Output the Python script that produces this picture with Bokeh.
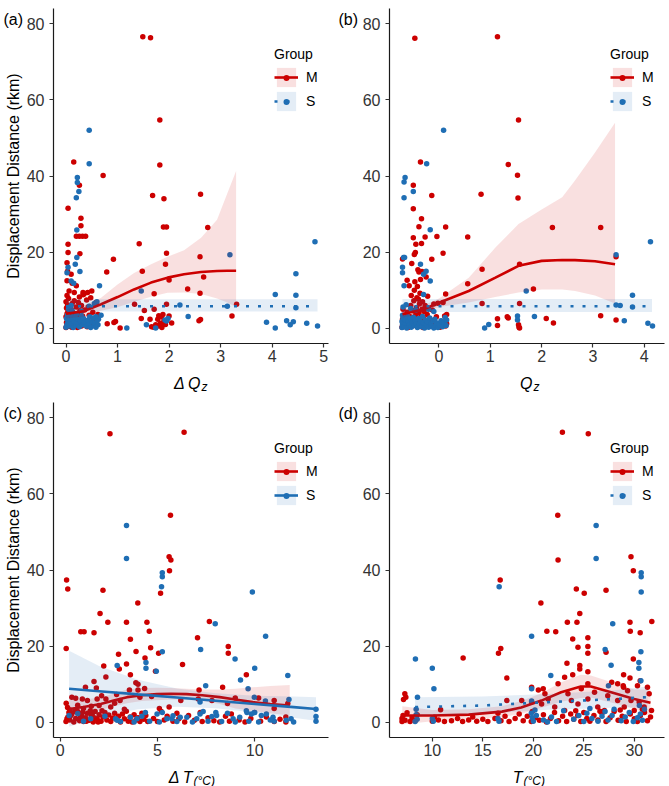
from bokeh.plotting import figure
from bokeh.layouts import gridplot
from bokeh.models import Range1d, Label, Legend, LegendItem, FixedTicker
from bokeh.embed import file_html
from bokeh.resources import INLINE

RED = "#CC0000"
BLUE = "#1F6EB4"
FONT = "Liberation Sans"

# ---------------- (a) displacement vs ΔQz ----------------
dqz_M = [(1.49,76.6),(1.64,76.3),(1.82,54.7),(1.82,42.9),(0.15,43.7),(0.72,40.1),(0.26,37.6),(1.68,34.9),(1.90,34.0),(2.61,35.2),
         (0.04,31.5),(0.29,28.9),(0.29,26.9),(0.20,24.2),(0.26,24.2),(0.32,24.2),(0.38,24.2),(1.89,26.6),(1.95,26.6),(2.75,26.5),
         (1.42,22.2),(1.95,19.7),(0.27,19.6),(0.04,22.1),(0.04,19.9),(0.02,17.2),(0.03,15.0),(0.10,14.2),(0.02,12.5),(0.12,11.8),
         (0.20,11.2),(0.06,9.8),(0.16,9.4),(0.33,9.4),(0.50,9.8),(0.92,18.1),(0.79,14.8),(1.48,15.0),(1.93,16.8),(2.60,18.8),
         (2.67,13.5),(2.00,12.7),(1.71,9.1),(2.36,10.3),(2.60,9.2),(1.52,4.7),(1.71,5.0),(1.33,6.3),(1.95,6.3),(2.61,2.3),
         (2.58,2.0),(3.22,3.2),(3.31,6.3),(0.80,1.2),(0.93,1.5),(0.96,1.8),(1.05,0.1),(1.63,2.4),(1.74,0.9),(1.77,0.5),
         (1.78,2.4),(1.80,3.3),(1.85,3.0),(1.88,3.6),(1.83,1.3),(1.84,0.6),(1.86,0.2),(1.66,0.4),(1.70,0.3),(1.46,2.6),
         (1.90,2.0),(1.93,1.0),(2.00,3.2),(2.05,1.4),
         (0.00,0.2),(0.02,0.8),(0.01,1.5),(0.03,2.2),(0.00,3.0),(0.02,3.8),(0.04,4.5),(0.01,5.3),(0.03,6.1),(0.00,7.0),
         (0.05,7.8),(0.02,8.6),(0.06,0.5),(0.08,1.2),(0.07,2.6),(0.09,3.5),(0.10,5.0),(0.12,6.5),(0.11,0.3),(0.14,1.8),
         (0.15,3.0),(0.13,4.2),(0.16,7.2),(0.18,0.9),(0.19,2.4),(0.20,5.6),(0.22,0.2),(0.22,3.6),(0.24,6.8),(0.25,1.4),
         (0.26,8.2),(0.27,4.6),(0.28,2.8),(0.30,0.6),(0.30,6.0),(0.32,3.2),(0.33,8.8),(0.35,1.1),(0.36,4.8),(0.38,2.0),
         (0.40,7.4),(0.41,0.4),(0.43,5.6),(0.45,3.4),(0.47,1.6),(0.48,8.0),(0.50,0.8),(0.52,4.2),(0.55,2.6),(0.58,6.8),
         (0.60,1.0),(0.62,3.6),(0.35,9.0),(0.42,9.4)]
dqz_S = [(0.45,52.0),(0.45,43.2),(0.22,39.6),(0.22,38.3),(0.25,35.9),(0.20,34.3),(0.21,25.8),(0.21,18.6),(0.18,16.8),(0.27,14.9),
         (0.04,16.0),(0.02,14.6),(0.10,12.4),(0.15,11.8),(0.65,11.2),(1.46,9.8),(3.18,19.3),(4.83,22.7),(4.46,14.3),(4.06,8.9),
         (4.46,8.7),(4.46,5.4),(4.06,0.1),(3.89,1.6),(4.28,2.0),(4.41,1.7),(4.35,0.9),(4.67,1.3),(4.88,0.6),(2.37,3.1),
         (3.13,5.8),(2.21,6.1),(1.18,0.1),(1.74,0.1),(1.56,0.9),(1.92,2.2),(1.98,2.6),(1.95,1.9),(0.63,2.4),(0.58,3.0),
         (0.68,3.4),
         (0.00,0.3),(0.02,1.0),(0.04,1.8),(0.01,2.6),(0.03,3.4),(0.06,0.6),(0.08,2.2),(0.10,1.2),(0.12,3.0),(0.14,0.2),
         (0.15,1.8),(0.17,2.8),(0.19,0.8),(0.20,3.6),(0.22,1.4),(0.24,2.4),(0.26,0.4),(0.28,1.9),(0.30,3.2),(0.32,0.9),
         (0.34,2.6),(0.36,1.5),(0.40,0.5),(0.42,2.1),(0.44,1.0),(0.46,3.0),(0.48,0.2),(0.50,1.7),(0.52,2.7),(0.54,0.7),
         (0.56,1.3),(0.58,0.3),(0.60,2.0),(0.62,0.9),(0.05,5.0),(0.12,4.6),(0.10,6.0),(0.30,4.5),(0.45,5.8),(0.55,6.5),(0.60,7.0)]
dqz_fit_x = [0.0, 0.35, 0.68, 1.0, 1.32, 1.65, 1.97, 2.29, 2.62, 2.93, 3.13, 3.3]
dqz_fit_M = [3.8, 4.5, 6.3, 8.2, 10.2, 12.0, 13.3, 14.2, 14.8, 15.05, 15.1, 15.1]
dqz_fit_M_hi = [5.0, 6.0, 8.0, 11.5, 14.5, 16.8, 18.8, 20.5, 23.8, 28.5, 35.5, 41.3]
dqz_fit_M_lo = [2.6, 3.0, 4.6, 5.5, 7.0, 8.3, 9.3, 9.4, 9.0, 7.8, 6.8, 5.5]
dqz_fit_S_x = [0.0, 4.88]
dqz_fit_S = [5.8, 5.8]
dqz_fit_S_hi = [7.6, 7.6]
dqz_fit_S_lo = [4.4, 4.4]

# ---------------- (b) displacement vs Qz ----------------
qz_M = [(-0.47,76.2),(1.14,76.6),(1.55,54.7),(1.35,43.0),(1.53,40.2),(-0.36,43.7),(-0.50,37.6),(-0.14,34.9),(0.82,35.2),(1.54,34.2),
        (-0.50,31.4),(-0.34,28.8),(-0.39,26.7),(-0.27,24.0),(-0.50,23.8),(-0.45,22.1),(-0.34,22.3),(-0.46,19.9),(-0.48,19.4),(-0.71,18.2),
        (-0.53,17.0),(-0.41,15.4),(-0.39,14.8),(-0.33,14.9),(-0.25,13.5),(-0.14,18.1),(-0.04,24.1),(0.13,26.6),(0.08,19.7),(0.56,24.0),
        (0.84,15.5),(0.56,11.7),(0.84,6.5),(1.57,16.8),(1.57,6.5),(1.84,10.3),(2.21,26.5),(3.15,26.5),(3.45,18.8),(3.15,3.3),
        (3.45,2.2),(2.09,2.6),(2.23,1.4),(1.14,2.5),(1.14,0.7),(1.33,3.0),(1.35,2.7),(1.55,0.9),(1.56,0.3),(1.57,0.1),(0.13,9.0),
        (-0.72,0.3),(-0.70,1.2),(-0.71,2.4),(-0.69,3.4),(-0.70,5.0),(-0.66,0.8),(-0.64,2.0),(-0.62,4.2),(-0.60,0.2),(-0.58,1.6),
        (-0.56,3.0),(-0.55,6.0),(-0.54,8.6),(-0.52,0.6),(-0.50,2.4),(-0.50,4.6),(-0.49,7.2),(-0.48,10.0),(-0.47,12.2),(-0.46,1.2),
        (-0.45,3.6),(-0.44,5.4),(-0.43,8.0),(-0.42,11.0),(-0.41,0.4),(-0.40,2.0),(-0.39,4.0),(-0.38,6.4),(-0.37,9.2),(-0.36,12.8),
        (-0.35,1.0),(-0.34,3.0),(-0.33,5.0),(-0.32,7.0),(-0.31,0.2),(-0.30,2.6),(-0.29,4.4),(-0.27,6.0),(-0.25,1.4),(-0.23,3.6),
        (-0.21,5.2),(-0.19,0.6),(-0.16,2.2),(-0.13,4.8),(-0.10,6.4),(-0.08,1.0),(-0.05,3.0),(-0.02,6.6),(0.02,0.3),(0.05,1.8),
        (0.08,6.8),(0.11,3.2),(0.13,0.6),(0.14,2.2),(0.15,1.2),(0.15,3.6),(-0.58,11.2),(-0.62,12.6),(-0.40,7.6),(-0.22,8.4)]
qz_S = [(0.09,52.0),(-0.24,43.2),(-0.66,39.6),(-0.68,38.4),(-0.50,35.9),(-0.68,34.3),(-0.17,25.9),(-0.69,18.6),(-0.67,18.6),(-0.71,16.0),
        (-0.71,14.6),(-0.68,11.2),(-0.36,16.8),(-0.30,14.2),(-0.25,15.0),(-0.17,12.4),(-0.30,8.9),(1.70,9.8),(3.45,19.3),(4.12,22.7),
        (3.77,8.7),(3.77,5.6),(3.45,6.1),(3.53,6.0),(3.61,2.0),(4.07,1.3),(4.16,0.6),(1.86,3.1),(1.53,3.2),(1.53,2.2),(0.89,0.1),(0.97,1.0),
        (-0.72,0.2),(-0.71,1.0),(-0.72,1.8),(-0.70,2.6),(-0.71,3.4),(-0.68,0.6),(-0.66,1.4),(-0.65,2.2),(-0.63,0.1),(-0.61,3.0),
        (-0.60,1.8),(-0.58,0.8),(-0.56,2.6),(-0.54,0.3),(-0.52,1.5),(-0.50,2.9),(-0.48,0.7),(-0.46,2.1),(-0.44,1.2),(-0.42,0.2),
        (-0.40,2.6),(-0.38,1.0),(-0.36,1.8),(-0.34,0.4),(-0.32,3.1),(-0.30,1.3),(-0.28,0.1),(-0.26,2.2),(-0.24,0.9),(-0.22,1.7),
        (-0.20,0.3),(-0.18,2.7),(-0.16,1.1),(-0.14,0.5),(-0.12,1.9),(-0.10,0.1),(-0.08,2.4),(-0.06,0.8),(-0.04,1.4),(-0.02,0.2),
        (0.01,1.0),(0.04,2.0),(0.07,0.4),(0.10,1.5),(0.12,2.8),(0.14,0.7),(0.15,2.2),(-0.70,5.6),(-0.64,6.2),(-0.55,5.2),
        (-0.45,4.8),(-0.20,5.0),(-0.10,4.4)]
qz_fit_x = [-0.71, -0.3, 0.0, 0.58, 1.1, 1.55, 2.0, 2.4, 2.65, 3.04, 3.43]
qz_fit_M = [3.7, 5.0, 6.7, 9.8, 13.3, 16.4, 17.7, 17.95, 17.9, 17.6, 16.8]
qz_fit_M_hi = [4.6, 6.0, 7.8, 13.3, 21.2, 27.4, 31.2, 34.4, 38.8, 46.2, 54.0]
qz_fit_M_lo = [2.8, 4.0, 5.6, 6.8, 8.2, 9.4, 10.2, 10.2, 9.8, 8.6, 6.5]
qz_fit_S_x = [-0.71, 4.15]
qz_fit_S = [5.8, 5.8]
qz_fit_S_hi = [7.7, 7.7]
qz_fit_S_lo = [4.3, 4.3]

# ---------------- (c) displacement vs ΔT ----------------
dt_M = [(2.56,75.8),(6.37,76.2),(5.67,54.4),(5.60,43.5),(5.69,42.6),(5.62,39.8),(0.33,37.4),(0.39,35.0),(2.20,34.7),(5.16,33.9),
        (3.99,31.3),(2.05,28.6),(2.45,26.3),(3.41,26.3),(4.46,26.3),(7.67,26.5),(1.06,23.8),(1.23,23.8),(1.74,23.5),(4.58,23.9),
        (3.61,21.8),(7.06,22.2),(0.31,19.4),(4.65,19.6),(3.00,17.9),(3.90,18.6),(5.06,18.1),(8.64,19.9),(8.64,18.1),(2.24,14.8),
        (3.41,15.3),(3.04,14.0),(4.36,16.9),(4.90,13.4),(6.29,15.2),(2.35,11.9),(3.61,12.5),(9.57,12.5),(8.35,9.2),(3.89,10.4),
        (4.00,10.0),(4.34,8.9),(1.74,10.7),(1.30,9.2),(1.86,9.0),(7.14,8.5),(3.56,8.5),(4.00,8.5),
        (0.31,5.0),(0.38,3.9),(0.60,6.6),(0.80,6.3),(1.14,6.1),(1.40,5.7),(1.90,6.1),(2.13,7.0),(2.35,6.1),(2.90,7.3),
        (3.08,5.7),(4.10,6.6),(4.70,6.8),(5.10,3.6),(5.60,4.0),(6.20,5.7),(7.10,6.1),(7.80,5.7),(8.60,4.9),(9.00,6.4),
        (10.2,6.4),(11.0,5.7),(11.7,4.9),(11.0,3.6),(0.90,4.5),(1.60,4.2),(2.60,4.0),(3.30,3.4),(0.50,3.2),(1.20,3.6),
        (2.00,4.4),(2.80,5.0),
        (0.30,0.2),(0.40,1.4),(0.50,0.6),(0.60,2.2),(0.70,0.1),(0.80,1.0),(0.90,2.8),(1.00,0.4),(1.10,1.8),(1.20,0.2),
        (1.30,1.2),(1.40,2.4),(1.50,0.5),(1.60,1.6),(1.70,0.1),(1.80,2.8),(1.90,0.9),(2.00,2.0),(2.10,0.3),(2.20,1.4),
        (2.30,2.6),(2.40,0.6),(2.50,1.9),(2.60,0.2),(2.70,1.1),(2.80,2.4),(2.90,0.7),(3.00,1.6),(3.10,0.1),(3.20,2.2),
        (3.30,0.9),(3.40,2.9),(3.50,0.3),(3.60,1.4),(3.70,0.1),(3.80,2.0),(3.90,0.6),(4.00,1.2),(4.10,0.2),(4.20,2.4),
        (4.30,0.8),(4.40,1.8),(4.50,0.2),(0.35,0.9),(0.55,1.8),(0.75,2.9),(0.95,0.8),(1.15,2.6),(1.35,0.3),(1.55,3.0),
        (1.75,1.2),(1.95,0.1),(2.15,3.0),(0.45,2.6),(1.05,1.3),(1.65,2.2),
        (4.80,1.0),(5.00,0.2),(5.20,2.8),(5.35,0.6),(5.50,1.6),(5.80,0.3),(6.00,2.4),(6.10,0.9),(6.40,0.1),(6.60,1.8),
        (6.90,0.5),(7.20,2.6),(7.30,0.2),(7.60,1.2),(7.90,0.4),(8.20,0.1),(8.50,1.6),(8.70,0.3),(8.80,2.2),(9.20,0.6),
        (9.50,0.1),(9.80,1.0),(10.3,0.3),(10.6,1.4),(11.0,0.2),(11.3,0.8),(11.6,0.1),(11.6,1.4)]
dt_S = [(3.41,51.7),(3.41,43.0),(5.25,39.3),(5.25,38.2),(5.21,35.6),(9.88,34.2),
        (7.97,25.9),(10.56,22.6),(5.25,18.5),(7.22,19.1),(8.99,16.6),(10.0,14.2),(4.41,15.7),(4.41,14.2),(4.94,13.4),(2.93,14.9),
        (11.70,12.3),(9.27,11.1),(9.66,8.8),(7.48,9.6),(9.98,6.6),(10.55,5.6),(11.76,6.0),(13.15,3.4),(13.15,1.5),(13.15,0.3),
        (7.19,5.3),(7.35,2.8),(8.00,2.6),(9.60,2.6),(9.98,2.6),
        (0.46,1.8),(1.57,0.9),(2.85,0.9),(2.93,0.5),(3.61,1.3),(3.95,0.9),(4.38,2.6),(4.98,2.2),(5.25,2.6),(5.49,0.9),
        (5.74,0.9),(6.17,1.3),(6.51,1.3),(7.02,0.9),(7.19,2.2),(8.04,1.8),(8.89,0.9),(9.23,1.3),(9.57,3.0),(9.83,2.2),
        (10.0,2.6),(10.34,1.8),(10.6,2.2),(10.94,1.3),(11.62,0.5),(11.87,0.9),
        (3.10,0.2),(3.80,0.1),(4.60,0.3),(5.10,0.1),(6.00,0.2),(6.80,0.1),(7.60,0.3),(8.30,0.2),(9.00,0.1),(9.70,0.3),
        (10.2,0.1),(11.0,0.3),(12.0,0.1),(4.20,1.6),(5.80,1.7),(7.80,1.5),(8.60,2.4),(10.8,0.6),(0.90,2.3),(1.20,0.3),(2.30,1.6)]
dt_fit_x = [0.46, 1.2, 2.08, 2.8, 3.44, 4.2, 4.98, 5.7, 6.5, 7.3, 8.2, 9.0, 9.9, 10.8, 11.8]
dt_fit_M = [3.5, 4.0, 4.8, 5.8, 6.6, 7.1, 7.4, 7.5, 7.4, 7.1, 6.6, 6.0, 5.3, 4.8, 4.4]
dt_fit_M_hi = [6.0, 6.0, 6.5, 7.6, 8.6, 9.0, 9.1, 9.0, 8.8, 8.6, 8.6, 8.8, 9.2, 9.5, 9.8]
dt_fit_M_lo = [1.2, 2.2, 3.3, 4.2, 5.0, 5.6, 5.8, 6.0, 5.9, 5.6, 4.8, 3.6, 3.0, 2.4, 1.8]
dt_fit_S_x = [0.46, 2.0, 4.0, 6.0, 8.0, 10.0, 12.0, 13.15]
dt_fit_S = [8.8, 8.16, 7.32, 6.49, 5.65, 4.82, 3.98, 3.5]
dt_fit_S_hi = [18.8, 14.8, 11.2, 8.9, 7.6, 7.0, 6.8, 6.6]
dt_fit_S_lo = [-1.2, 1.5, 3.4, 4.1, 3.7, 2.6, 1.2, 0.4]

# ---------------- (d) displacement vs T ----------------
t_M = [(22.88,76.2),(25.44,75.8),(22.42,54.4),(22.45,42.6),(29.67,43.5),(29.90,39.8),(16.72,37.4),(24.26,35.0),(25.04,33.9),(27.20,34.7),
       (20.75,31.3),(24.60,28.6),(23.37,26.3),(24.32,26.3),(29.57,26.3),(31.73,26.5),(21.34,23.9),(22.22,23.8),(29.60,23.9),(30.58,23.5),
       (23.90,21.9),(25.40,22.2),(25.40,19.9),(25.40,18.1),(24.42,19.7),(27.20,18.4),(29.90,16.6),(16.55,18.1),(16.78,19.4),(13.05,16.9),
       (23.33,15.5),(24.60,14.9),(24.60,14.0),(25.40,13.3),(17.38,11.6),(23.90,12.5),(27.76,10.5),(28.94,12.5),(29.57,11.6),(30.58,10.9),
       (28.94,9.2),(28.90,9.6),(19.83,9.2),(20.50,8.5),(20.98,8.8),(21.15,7.5),(7.28,7.5),(7.38,6.6),(7.15,6.0),(10.82,3.3),(17.38,5.7),
       (18.85,5.7),(19.83,5.3),(20.82,4.8),(21.47,6.1),(22.12,4.0),(23.10,3.1),(23.77,5.7),(24.42,4.8),(25.40,6.1),(26.38,4.0),
       (27.04,3.1),(28.35,5.7),(29.00,4.0),(29.67,5.7),(29.99,3.1),(30.48,5.3),(30.97,4.0),(31.47,7.5),(31.70,3.1),(31.30,9.2),
       (30.31,9.6),(29.33,8.3),(28.35,10.1),(27.37,7.0),(23.43,7.5),(24.75,8.8),(25.40,10.1),(26.06,7.9),(23.10,11.8),(22.45,10.1),
       (7.0,0.2),(7.0,1.0),(7.1,1.8),(7.3,0.5),(7.5,2.5),(7.8,0.2),(8.0,1.2),(8.3,0.4),(8.5,2.0),(10.0,0.3),
       (10.2,1.3),(10.6,0.6),(11.2,0.2),(11.9,0.4),(12.5,1.0),(13.0,0.2),(13.6,0.6),(14.0,1.4),(14.4,0.3),(15.0,0.8),
       (15.5,0.2),(16.2,1.0),(16.5,2.4),(16.8,0.4),(17.2,1.6),(17.6,0.2),(18.2,1.0),(18.6,2.2),(19.0,0.4),(19.4,1.6),
       (19.8,0.2),(19.9,2.8),(20.2,1.2),(20.6,0.5),(21.0,2.0),(21.3,0.1),(21.7,1.0),(22.1,2.6),(22.5,0.4),(22.9,1.6),
       (23.3,0.2),(23.7,2.2),(24.0,0.8),(24.4,1.8),(24.7,0.2),(25.0,2.6),(25.3,1.0),(25.6,0.3),(26.0,1.8),(26.4,0.6),
       (26.8,2.4),(27.2,0.2),(27.6,1.2),(28.0,2.8),(28.4,0.5),(28.8,1.6),(29.2,0.2),(29.6,2.2),(30.0,0.9),(30.3,0.2),
       (30.6,1.8),(31.0,2.6),(31.3,0.4),(31.6,1.4),(24.2,3.0),(26.6,2.9),(28.6,3.2),(30.8,3.4)]
t_S = [(26.22,51.7),(26.22,43.0),(30.68,39.3),(30.68,38.2),(16.62,35.6),(30.68,34.2),
       (27.86,25.9),(19.83,22.6),(27.11,19.1),(30.65,18.5),(30.45,15.7),(30.45,14.2),(8.33,16.6),(10.0,14.2),(21.73,12.3),(27.70,15.0),
       (30.65,10.9),(10.16,8.8),(27.44,9.6),(19.83,8.8),(8.53,6.6),(19.83,5.6),(20.16,3.2),
       (8.4,3.4),(8.4,2.0),(8.5,0.8),(8.3,0.2),(10.0,1.0),(10.1,0.3),(16.5,1.0),(16.6,0.3),(19.8,2.4),(19.9,1.2),(20.0,0.3),
       (20.3,1.8),(21.0,0.6),(21.4,0.1),(21.8,1.4),(22.3,0.2),(24.0,0.8),(24.5,1.8),(25.0,0.2),(25.3,2.4),(25.8,1.0),
       (26.4,0.3),(26.8,1.6),(27.1,2.8),(27.4,0.6),(27.8,1.8),(28.7,0.4),(29.1,1.4),(29.5,2.6),(29.9,0.2),(30.3,1.2),
       (30.6,2.2),(30.8,0.5),(31.0,3.4),(30.5,4.4),(28.0,3.4),(25.6,3.6),(23.0,3.0)]
t_fit_x = [7.03, 10.0, 13.6, 16.9, 18.8, 20.8, 22.75, 24.7, 25.7, 27.7, 30.0, 31.6]
t_fit_M = [1.76, 1.76, 2.0, 2.8, 3.9, 5.7, 7.9, 9.4, 9.4, 7.9, 6.1, 5.1]
t_fit_M_hi = [4.2, 3.2, 3.4, 4.2, 5.6, 7.6, 10.5, 12.5, 12.3, 10.6, 8.6, 8.6]
t_fit_M_lo = [-0.6, 0.3, 0.7, 1.4, 2.2, 3.8, 5.4, 6.4, 6.5, 5.2, 3.6, 1.6]
t_fit_S_x = [8.3, 14.9, 21.5, 28.0, 31.3]
t_fit_S = [4.0, 4.4, 5.3, 6.1, 6.6]
t_fit_S_hi = [6.6, 6.8, 7.4, 8.4, 9.4]
t_fit_S_lo = [1.6, 2.2, 3.3, 3.8, 3.8]

Y_LIM = (-4, 84)
Y_TICKS = [0, 20, 40, 60, 80]
PANEL_W, PANEL_H, ROW_H = 275, 335, 393


def panel(tag, x_lim, x_ticks, m_pts, s_pts, m_fit, s_fit, s_dash,
          x_main, x_sub, x_main_right, width, pad_left, pad_top, y_title):
    # The plotting frame fills the whole canvas; the axes are pinned to the
    # panel edges (fixed_location + bounds) so that titles and tags can be
    # drawn as ordinary labels around the panel.
    pad_bottom = ROW_H - PANEL_H - pad_top
    x0, x1 = x_lim
    y0, y1 = Y_LIM
    ux = (x1 - x0) / PANEL_W
    uy = (y1 - y0) / PANEL_H
    xr = Range1d(x0 - pad_left * ux, x0 + (width - pad_left) * ux)
    yr = Range1d(y0 - pad_bottom * uy, y1 + pad_top * uy)
    p = figure(width=width, height=ROW_H, x_range=xr, y_range=yr,
               output_backend="svg", toolbar_location=None,
               min_border_left=0, min_border_right=0, min_border_top=0, min_border_bottom=0)
    p.outline_line_color = None
    p.grid.visible = False
    p.background_fill_color = "white"
    p.border_fill_color = "white"

    xa, ya = p.xaxis[0], p.yaxis[0]
    xa.fixed_location = y0
    xa.bounds = (x0, x1)
    ya.fixed_location = x0
    ya.bounds = (y0, y1)
    for ax in (xa, ya):
        ax.axis_line_color = "#1a1a1a"
        ax.axis_line_width = 1.2
        ax.major_tick_line_color = "#333333"
        ax.major_tick_line_width = 1.2
        ax.major_tick_in = 0
        ax.major_tick_out = 4
        ax.minor_tick_line_color = None
        ax.major_label_text_font = FONT
        ax.major_label_text_font_size = "16px"
        ax.major_label_text_color = "#333333"
    xa.ticker = FixedTicker(ticks=x_ticks)
    ya.ticker = FixedTicker(ticks=Y_TICKS)
    xa.major_label_standoff = 2
    ya.major_label_standoff = 5
    if y_title:
        ya.axis_label = "Displacement Distance (rkm)"
        ya.axis_label_text_font = FONT
        ya.axis_label_text_font_size = "16px"
        ya.axis_label_text_font_style = "normal"
        ya.axis_label_text_color = "black"
        ya.axis_label_standoff = 2

    mx, my = zip(*m_pts)
    sx, sy = zip(*s_pts)
    m_dots = p.scatter(list(mx), list(my), size=5.5, color=RED, line_width=0)
    s_dots = p.scatter(list(sx), list(sy), size=5.5, color=BLUE, line_width=0)

    fx, fy, fhi, flo = m_fit
    m_band = p.varea(x=fx, y1=flo, y2=fhi, fill_color=RED, fill_alpha=0.12)
    m_line = p.line(fx, fy, line_color=RED, line_width=2.6)
    gx, gy, ghi, glo = s_fit
    s_band = p.varea(x=gx, y1=glo, y2=ghi, fill_color=BLUE, fill_alpha=0.12)
    s_line = p.line(gx, gy, line_color=BLUE, line_width=2.6, line_dash=s_dash)

    # legend keys: ribbon + line, with a second overlaid legend carrying small point keys
    key_legend = Legend(items=[LegendItem(label="M", renderers=[m_band, m_line]),
                               LegendItem(label="S", renderers=[s_band, s_line])],
                        location=(pad_left + 221, pad_bottom + 230), title="Group",
                        title_text_font=FONT, title_text_font_size="14px", title_text_font_style="normal",
                        title_text_color="black", title_standoff=3,
                        label_text_font=FONT, label_text_font_size="14px", label_text_color="black",
                        glyph_width=24, glyph_height=24, spacing=0, padding=0, margin=0,
                        label_standoff=8, background_fill_alpha=0, border_line_alpha=0)
    dot_legend = Legend(items=[LegendItem(label=" ", renderers=[m_dots]),
                               LegendItem(label=" ", renderers=[s_dots])],
                        location=(pad_left + 221, pad_bottom + 234), label_text_font_size="1px", label_height=15,
                        glyph_width=24, glyph_height=15, spacing=9, padding=0, margin=0,
                        label_standoff=0, label_width=1, background_fill_alpha=0, border_line_alpha=0)
    p.add_layout(key_legend)
    p.add_layout(dot_legend)

    # x-axis title with an italic subscript, and the panel tag
    p.add_layout(Label(x=x0 + x_main_right * ux, y=y0 - 40 * uy, text=x_main,
                       text_font=FONT, text_font_size="16px", text_font_style="italic",
                       text_align="right", text_baseline="alphabetic", text_color="black"))
    p.add_layout(Label(x=x0 + (x_main_right + 1) * ux, y=y0 - 43 * uy, text=x_sub,
                       text_font=FONT, text_font_size="12px", text_font_style="italic",
                       text_align="left", text_baseline="alphabetic", text_color="black"))
    p.add_layout(Label(x=x0 - (pad_left - 3) * ux, y=y1 - 11 * uy, text=tag,
                       text_font=FONT, text_font_size="16px", text_align="left",
                       text_baseline="alphabetic", text_color="black"))
    return p


pa = panel("(a)", (-0.2425, 5.0925), [0, 1, 2, 3, 4, 5], dqz_M, dqz_S,
           (dqz_fit_x, dqz_fit_M, dqz_fit_M_hi, dqz_fit_M_lo),
           (dqz_fit_S_x, dqz_fit_S, dqz_fit_S_hi, dqz_fit_S_lo), "3 9",
           "\u0394\u2009Q", "z", 147, 335, 53, 8, True)
pb = panel("(b)", (-0.9635, 4.3935), [0, 1, 2, 3, 4], qz_M, qz_S,
           (qz_fit_x, qz_fit_M, qz_fit_M_hi, qz_fit_M_lo),
           (qz_fit_S_x, qz_fit_S, qz_fit_S_hi, qz_fit_S_lo), "3 9",
           "Q", "z", 143, 334, 54, 8, False)
pc = panel("(c)", (-0.3425, 13.7925), [0, 5, 10], dt_M, dt_S,
           (dt_fit_x, dt_fit_M, dt_fit_M_hi, dt_fit_M_lo),
           (dt_fit_S_x, dt_fit_S, dt_fit_S_hi, dt_fit_S_lo), "solid",
           "\u0394\u2009T", "(\u00b0C)", 139, 335, 53, 9, True)
pd_ = panel("(d)", (5.7625, 32.9875), [10, 15, 20, 25, 30], t_M, t_S,
            (t_fit_x, t_fit_M, t_fit_M_hi, t_fit_M_lo),
            (t_fit_S_x, t_fit_S, t_fit_S_hi, t_fit_S_lo), "3 9",
            "T", "(\u00b0C)", 133, 334, 54, 9, False)

grid = gridplot([[pa, pb], [pc, pd_]], toolbar_location=None)
open("out.html", "w").write(file_html(grid, INLINE))
